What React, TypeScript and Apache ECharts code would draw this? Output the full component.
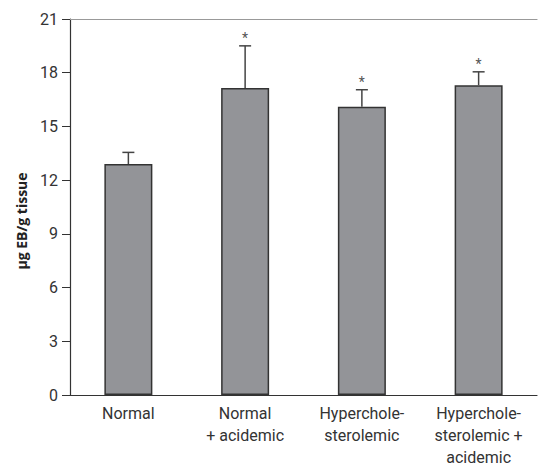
import React, { useEffect, useRef } from "react";
import * as echarts from "echarts";

const categories = ["Normal", "Normal\n+ acidemic", "Hypercholе-\nsterolemic", "Hypercholе-\nsterolemic +\nacidemic"].map((s) => s.replace(/е/g, "e"));
const means = [12.9, 17.15, 16.1, 17.3];
const errorUpper = [13.55, 19.5, 17.05, 18.05];
const significant = [false, true, true, true];
const yTicks = [0, 3, 6, 9, 12, 15, 18, 21];
const yTitle = "μg EB/g tissue";

export default function App() {
  const ref = useRef<HTMLDivElement>(null);
  useEffect(() => {
    if (!ref.current) return;
    const chart = echarts.init(ref.current, null, { renderer: "svg" });
    const font = "Roboto, 'Open Sans', sans-serif";
    chart.setOption({
      animation: false,
      grid: { left: 70, right: 2, top: 19, bottom: 72, outerBoundsMode: "none", containLabel: false },
      graphic: [
        {
          type: "text",
          x: 21,
          y: 221,
          rotation: Math.PI / 2,
          style: {
            text: yTitle,
            fill: "#222",
            fontSize: 14,
            fontWeight: "bold",
            fontFamily: "'Open Sans', sans-serif",
            align: "center",
            verticalAlign: "middle",
          },
        },
      ],
      xAxis: [
        {
          type: "category",
          data: categories,
          axisLine: { lineStyle: { color: "#333", width: 1.2 } },
          axisTick: { alignWithLabel: true, length: 5, lineStyle: { color: "#333" } },
          axisLabel: { color: "#333", fontSize: 16, fontFamily: font, lineHeight: 22, margin: 7, interval: 0 },
        },
        {
          type: "category",
          data: categories,
          position: "top",
          axisLine: { show: true, lineStyle: { color: "#999", width: 1.2 } },
          axisTick: { show: false },
          axisLabel: { show: false },
        },
      ],
      yAxis: {
        type: "value",
        min: 0,
        max: 21,
        interval: 3,
        axisLine: { show: true, lineStyle: { color: "#333", width: 1.2 } },
        axisTick: { show: true, length: 8, lineStyle: { color: "#333" } },
        axisLabel: {
          color: "#333",
          fontSize: 16,
          fontFamily: font,
          margin: 12,
          formatter: (v: number) => (yTicks.includes(v) ? String(v) : ""),
        },
        splitLine: { show: false },
      },
      series: [
        {
          type: "bar",
          data: means,
          barWidth: 48,
          itemStyle: { color: "#939498", borderColor: "#333", borderWidth: 1.5 },
        },
        {
          type: "custom",
          data: means.map((m, i) => [i, m, errorUpper[i], significant[i] ? 1 : 0]),
          z: 3,
          renderItem: (params: any, api: any) => {
            const x = api.value(0);
            const base = api.coord([x, api.value(1)]);
            const top = api.coord([x, api.value(2)]);
            const children: any[] = [
              { type: "line", shape: { x1: base[0], y1: base[1], x2: top[0], y2: top[1] }, style: { stroke: "#444", lineWidth: 1.5 } },
              { type: "line", shape: { x1: top[0] - 6, y1: top[1], x2: top[0] + 6, y2: top[1] }, style: { stroke: "#444", lineWidth: 1.5 } },
            ];
            if (api.value(3)) {
              children.push({
                type: "text",
                x: top[0],
                y: top[1] - 1,
                style: { text: "*", fill: "#555", fontSize: 14, fontFamily: font, align: "center", verticalAlign: "bottom" },
              });
            }
            return { type: "group", children };
          },
        },
      ],
    });
    return () => chart.dispose();
  }, []);
  return <div ref={ref} style={{ width: 539, height: 467, position: "absolute", left: 0, top: 0, background: "#fff" }} />;
}
